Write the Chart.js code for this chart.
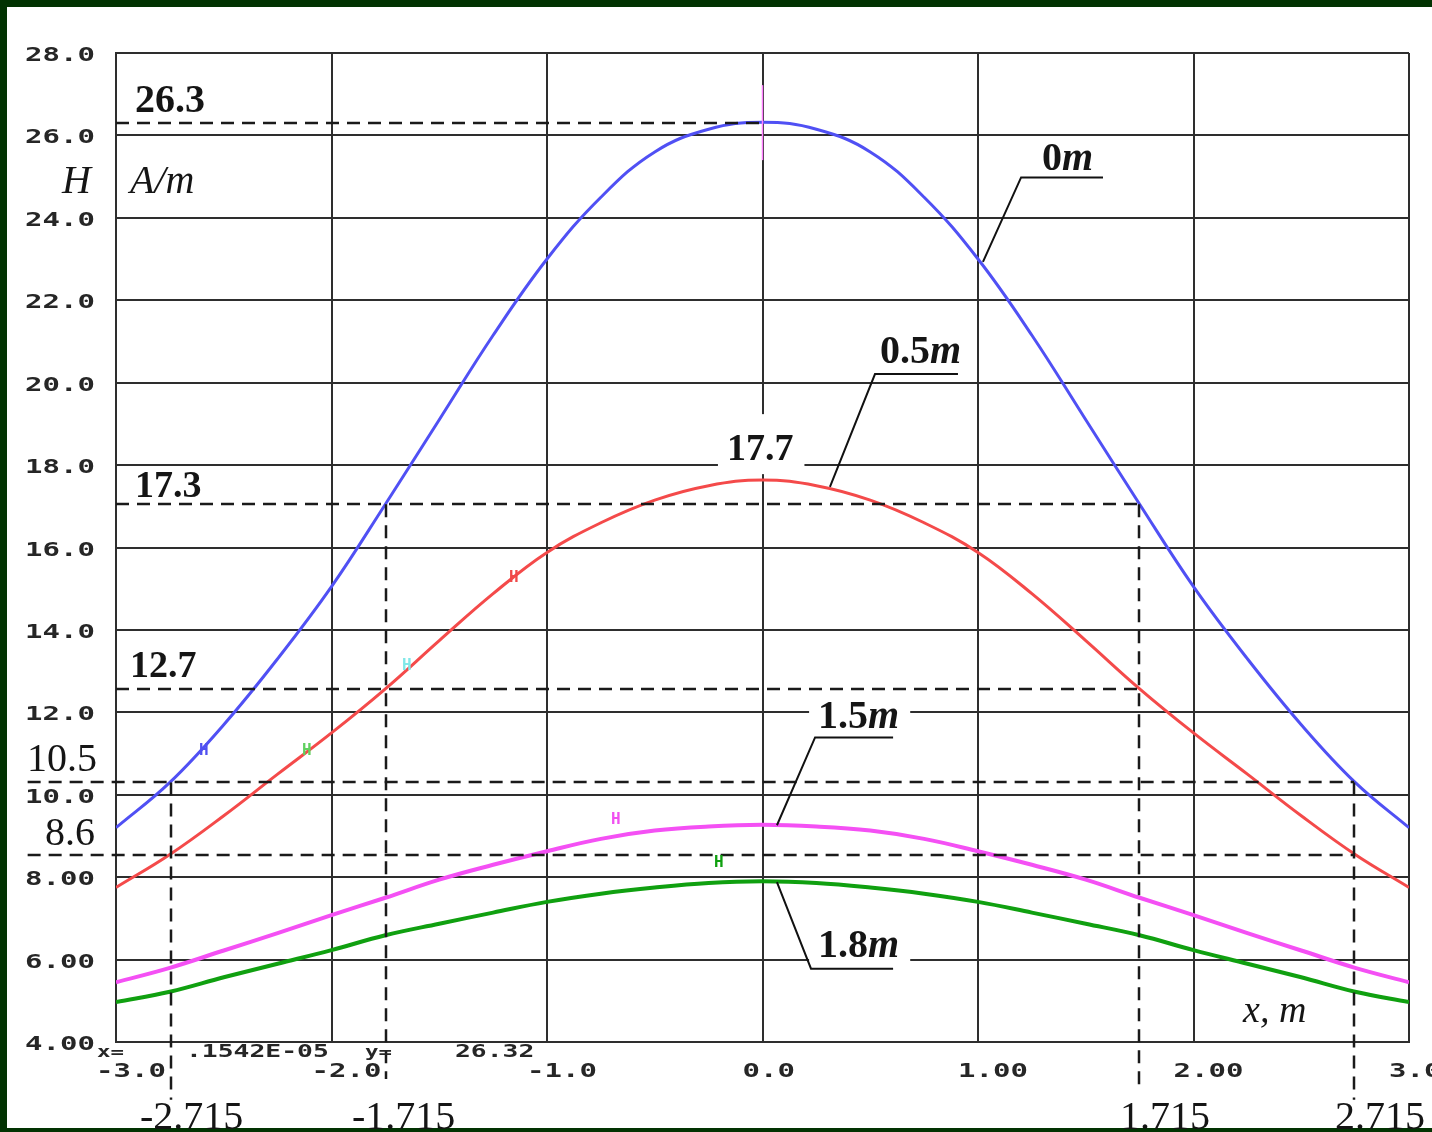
<!DOCTYPE html>
<html>
<head>
<meta charset="utf-8">
<script src="https://cdn.jsdelivr.net/npm/chart.js@4.4.0/dist/chart.umd.min.js"></script>
<style>
  html, body { margin: 0; padding: 0; background: #023302; }
  #wrap { width: 1432px; height: 1132px; }
</style>
</head>
<body>
<div id="wrap"><canvas id="chart" width="1432" height="1132"></canvas></div>
<script>
// x positions (m) and H (A/m) for each depth
const xValues = [-3, -2.75, -2.5, -2.25, -2, -1.75, -1.5, -1.25, -1, -0.75, -0.5, -0.25, 0,
                 0.25, 0.5, 0.75, 1, 1.25, 1.5, 1.75, 2, 2.25, 2.5, 2.75, 3];
const h0m  = [9.2, 10.3, 11.7, 13.3, 15.05, 17.05, 19.1, 21.15, 23.0, 24.5, 25.6, 26.15, 26.32,
              26.15, 25.6, 24.5, 23.0, 21.15, 19.1, 17.05, 15.05, 13.3, 11.7, 10.3, 9.2];
const h05m = [7.75, 8.55, 9.49, 10.5, 11.5, 12.57, 13.74, 14.88, 15.88, 16.6, 17.15, 17.5, 17.64,
              17.5, 17.15, 16.6, 15.88, 14.88, 13.74, 12.57, 11.5, 10.5, 9.49, 8.55, 7.75];
const h15m = [5.45, 5.8, 6.22, 6.64, 7.08, 7.5, 7.94, 8.3, 8.63, 8.93, 9.13, 9.23, 9.27,
              9.23, 9.13, 8.93, 8.63, 8.3, 7.94, 7.5, 7.08, 6.64, 6.22, 5.8, 5.45];
const h18m = [4.97, 5.22, 5.57, 5.9, 6.23, 6.59, 6.87, 7.14, 7.4, 7.6, 7.75, 7.86, 7.9,
              7.86, 7.75, 7.6, 7.4, 7.14, 6.87, 6.59, 6.23, 5.9, 5.57, 5.22, 4.97];

// tick labels
const yTickValues = [28, 26, 24, 22, 20, 18, 16, 14, 12, 10, 8, 6, 4];
const yTickLabels = ['28.0', '26.0', '24.0', '22.0', '20.0', '18.0', '16.0', '14.0', '12.0', '10.0', '8.00', '6.00', '4.00'];
const xTickValues = [-3, -2, -1, 0, 1, 2, 3];
const xTickLabels = ['-3.0', '-2.0', '-1.0', '0.0', '1.00', '2.00', '3.0'];

// dashed reading lines (data coords)
const hGuides = [
  { y: 26.3, from: -3, to: 0 },
  { y: 17.05, from: -3, to: 1.745 },
  { y: 12.57, from: -3, to: 1.745 },
  { y: 10.3, from: -3.41, to: 2.745 },
  { y: 8.54, from: -3.41, to: 2.745 }
];
const vGuides = [
  { x: -2.745, from: 10.3, to: 2.6 },
  { x: -1.745, from: 17.05, to: 3.1 },
  { x: 1.745, from: 17.05, to: 2.85 },
  { x: 2.745, from: 10.3, to: 2.6 }
];

// leader lines for the curve names
const leaders = [
  [[1.023, 22.93], [1.2, 24.98], [1.58, 24.98]],
  [[0.313, 17.47], [0.522, 20.21], [0.907, 20.21]],
  [[0.067, 9.26], [0.244, 11.39], [0.606, 11.39]],
  [[0.067, 7.88], [0.225, 5.78], [0.606, 5.78]]
];

const SERIF = '"Liberation Serif", "Times New Roman", serif';
const MONO = '"DejaVu Sans Mono", monospace';

// text notes: parts are [text, font]
const notes = [
  { x: -2.912, y: 26.57, parts: [['26.3', 'bold 40px ' + SERIF]] },
  { x: -3.251, y: 24.6, parts: [['H', 'italic 40px ' + SERIF]] },
  { x: -2.935, y: 24.6, parts: [['A/m', 'italic 40px ' + SERIF]] },
  { x: -2.912, y: 17.22, parts: [['17.3', 'bold 38px ' + SERIF]] },
  { x: -2.935, y: 12.85, parts: [['12.7', 'bold 38px ' + SERIF]] },
  { x: -3.413, y: 10.57, parts: [['10.5', '40px ' + SERIF]] },
  { x: -3.33, y: 8.78, parts: [['8.6', '40px ' + SERIF]] },
  { x: -0.165, y: 18.12, box: true, parts: [['17.7', 'bold 38px ' + SERIF]] },
  { x: 1.297, y: 25.16, parts: [['0', 'bold 40px ' + SERIF], ['m', 'italic bold 40px ' + SERIF]] },
  { x: 0.545, y: 20.48, parts: [['0.5', 'bold 40px ' + SERIF], ['m', 'italic bold 40px ' + SERIF]] },
  { x: 0.258, y: 11.62, box: true, parts: [['1.5', 'bold 40px ' + SERIF], ['m', 'italic bold 40px ' + SERIF]] },
  { x: 0.258, y: 6.06, box: true, parts: [['1.8', 'bold 40px ' + SERIF], ['m', 'italic bold 40px ' + SERIF]] },
  { x: 2.23, y: 4.48, parts: [['x, m', 'italic 38px ' + SERIF]] },
  { x: -2.889, y: 1.88, parts: [['-2.715', '40px ' + SERIF]] },
  { x: -1.905, y: 1.88, parts: [['-1.715', '40px ' + SERIF]] },
  { x: 1.659, y: 1.88, parts: [['1.715', '40px ' + SERIF]] },
  { x: 2.657, y: 1.88, parts: [['2.715', '40px ' + SERIF]] }
];

// little "H" curve tags
const tags = [
  { x: -2.587, y: 11.13, color: '#5050f0' },
  { x: -2.109, y: 11.13, color: '#60d060' },
  { x: -1.645, y: 13.19, color: '#80e8e8' },
  { x: -1.148, y: 15.33, color: '#f04848' },
  { x: -0.675, y: 9.46, color: '#f050f0' },
  { x: -0.197, y: 8.41, color: '#10a010' }
];

const curveColors = ['#5050f4', '#f44a4a', '#f450f4', '#10a010'];

function series(values) {
  return xValues.map((x, i) => ({ x: x, y: values[i] }));
}

function monoText(ctx, str, x, y, size, sx) {
  ctx.save();
  ctx.font = 'bold ' + size + 'px ' + MONO;
  ctx.textAlign = 'left';
  ctx.textBaseline = 'alphabetic';
  ctx.translate(x, y);
  ctx.scale(sx, 1);
  ctx.fillText(str, 0, 0);
  ctx.restore();
}

function noteWidth(ctx, note) {
  let w = 0;
  note.parts.forEach(p => { ctx.font = p[1]; w += ctx.measureText(p[0]).width; });
  return w;
}

const decorPlugin = {
  id: 'decor',
  beforeDraw(chart) {
    const ctx = chart.ctx;
    ctx.save();
    ctx.fillStyle = '#023302';
    ctx.fillRect(0, 0, chart.width, chart.height);
    ctx.fillStyle = '#ffffff';
    ctx.fillRect(7, 7, chart.width - 7, 1121);
    ctx.restore();
  },
  beforeDatasetsDraw(chart) {
    // white knock-outs behind some labels
    const ctx = chart.ctx;
    const xs = chart.scales.x, ys = chart.scales.y;
    ctx.save();
    ctx.fillStyle = '#ffffff';
    notes.filter(n => n.box).forEach(n => {
      const px = xs.getPixelForValue(n.x), py = ys.getPixelForValue(n.y);
      const w = noteWidth(ctx, n);
      ctx.fillRect(px - 9, py - 46, w + 20, 60);
    });
    ctx.restore();
  },
  afterDraw(chart) {
    const ctx = chart.ctx;
    const xs = chart.scales.x, ys = chart.scales.y;
    ctx.save();

    // cursor mark at x = 0
    ctx.strokeStyle = '#ff80ff';
    ctx.lineWidth = 1.5;
    ctx.beginPath();
    ctx.moveTo(xs.getPixelForValue(0), ys.getPixelForValue(27.22));
    ctx.lineTo(xs.getPixelForValue(0), ys.getPixelForValue(25.4));
    ctx.stroke();

    // dashed guides
    ctx.strokeStyle = '#1a1a1a';
    ctx.lineWidth = 2.5;
    ctx.setLineDash([13, 8]);
    hGuides.forEach(g => {
      const py = Math.round(ys.getPixelForValue(g.y));
      ctx.beginPath();
      ctx.moveTo(xs.getPixelForValue(g.from), py);
      ctx.lineTo(xs.getPixelForValue(g.to), py);
      ctx.stroke();
    });
    vGuides.forEach(g => {
      const px = Math.round(xs.getPixelForValue(g.x));
      ctx.beginPath();
      ctx.moveTo(px, ys.getPixelForValue(g.from));
      ctx.lineTo(px, ys.getPixelForValue(g.to));
      ctx.stroke();
    });
    ctx.setLineDash([]);

    // leader lines
    ctx.strokeStyle = '#111';
    ctx.lineWidth = 2;
    leaders.forEach(pts => {
      ctx.beginPath();
      pts.forEach((p, i) => {
        const px = xs.getPixelForValue(p[0]), py = ys.getPixelForValue(p[1]);
        if (i === 0) ctx.moveTo(px, py); else ctx.lineTo(px, py);
      });
      ctx.stroke();
    });

    // tick labels
    ctx.fillStyle = '#262626';
    yTickValues.forEach((v, i) => {
      monoText(ctx, yTickLabels[i], 25, ys.getPixelForValue(v) + 8, 20, 1.45);
    });
    xTickValues.forEach((v, i) => {
      monoText(ctx, xTickLabels[i], xs.getPixelForValue(v) - 20, 1077, 20, 1.45);
    });

    // cursor readout
    monoText(ctx, 'x=', 97, 1057, 16, 1.4);
    monoText(ctx, '.1542E-05', 186, 1057, 17, 1.55);
    monoText(ctx, 'y=', 365, 1057, 16, 1.4);
    monoText(ctx, '26.32', 455, 1057, 17, 1.55);

    // H tags
    tags.forEach(t => {
      ctx.fillStyle = t.color;
      monoText(ctx, 'H', xs.getPixelForValue(t.x) - 6, ys.getPixelForValue(t.y) + 7, 16, 1.0);
    });

    // text notes
    ctx.fillStyle = '#151515';
    ctx.textAlign = 'left';
    ctx.textBaseline = 'alphabetic';
    notes.forEach(n => {
      let px = xs.getPixelForValue(n.x);
      const py = ys.getPixelForValue(n.y);
      n.parts.forEach(p => {
        ctx.font = p[1];
        ctx.fillText(p[0], px, py);
        px += ctx.measureText(p[0]).width;
      });
    });

    ctx.restore();
  }
};

const ctx = document.getElementById('chart').getContext('2d');
new Chart(ctx, {
  type: 'line',
  data: {
    datasets: [
      { label: '0m', data: series(h0m), borderColor: curveColors[0], borderWidth: 3 },
      { label: '0.5m', data: series(h05m), borderColor: curveColors[1], borderWidth: 3 },
      { label: '1.5m', data: series(h15m), borderColor: curveColors[2], borderWidth: 4 },
      { label: '1.8m', data: series(h18m), borderColor: curveColors[3], borderWidth: 4 }
    ]
  },
  options: {
    responsive: false,
    devicePixelRatio: 1,
    animation: false,
    layout: { padding: { left: 116, top: 53, right: 23, bottom: 90 } },
    elements: {
      point: { radius: 0, hoverRadius: 0 },
      line: { tension: 0.4, fill: false }
    },
    plugins: {
      legend: { display: false },
      tooltip: { enabled: false }
    },
    scales: {
      x: {
        type: 'linear',
        min: -3,
        max: 3,
        ticks: { display: false, stepSize: 1 },
        grid: { color: '#2e2e2e', lineWidth: 2, drawTicks: false },
        border: { color: '#2e2e2e', width: 2 }
      },
      y: {
        type: 'linear',
        min: 4,
        max: 28,
        ticks: { display: false, stepSize: 2 },
        grid: { color: '#2e2e2e', lineWidth: 2, drawTicks: false },
        border: { color: '#2e2e2e', width: 2 }
      }
    }
  },
  plugins: [decorPlugin]
});
</script>
</body>
</html>
